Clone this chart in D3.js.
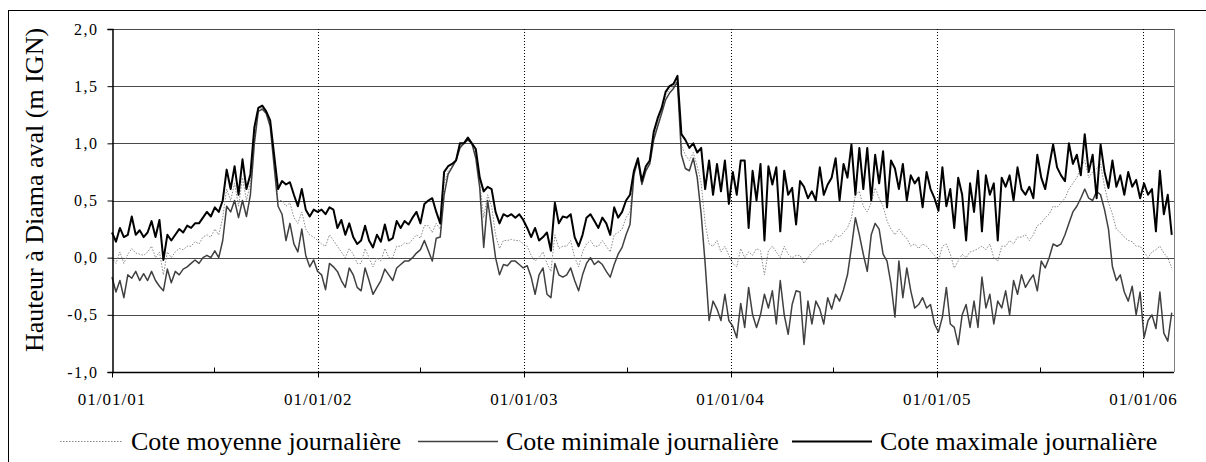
<!DOCTYPE html>
<html>
<head>
<meta charset="utf-8">
<script src="https://cdn.jsdelivr.net/npm/d3@7"></script>
<style>
  html, body { margin: 0; padding: 0; background: #fff; }
  svg { display: block; }
  text { font-family: "Liberation Serif", "Times New Roman", serif; fill: #000; }
</style>
</head>
<body>
<svg id="chart" width="1206" height="462"></svg>
<script>
// ---- data (weekly samples, metres IGN) ----
const startDate = "2001-01-01";
const stepDays = 7;
const endDate = "2006-02-24";

const maxVals = [
0.22,0.14,0.26,0.18,0.2,0.36,0.2,0.24,0.18,0.22,
0.32,0.18,0.33,-0.02,0.2,0.15,0.2,0.25,0.22,0.28,
0.26,0.3,0.3,0.35,0.4,0.36,0.44,0.4,0.5,0.77,
0.6,0.8,0.55,0.86,0.6,0.73,1.14,1.31,1.33,1.28,
1.2,0.9,0.6,0.67,0.64,0.66,0.55,0.45,0.6,0.42,
0.36,0.42,0.4,0.42,0.38,0.44,0.42,0.26,0.33,0.2,
0.3,0.18,0.12,0.15,0.28,0.15,0.09,0.2,0.14,0.29,
0.15,0.17,0.32,0.26,0.32,0.29,0.35,0.4,0.3,0.47,
0.5,0.52,0.4,0.3,0.75,0.8,0.82,0.85,1.0,1.0,
1.05,1.0,0.95,0.7,0.58,0.62,0.6,0.4,0.3,0.38,
0.36,0.38,0.35,0.38,0.33,0.26,0.18,0.26,0.15,0.18,
0.22,0.06,0.48,0.3,0.36,0.35,0.38,0.18,0.1,0.2,
0.35,0.38,0.32,0.26,0.35,0.3,0.2,0.44,0.35,0.4,
0.5,0.55,0.76,0.87,0.67,0.8,0.85,1.1,1.22,1.31,
1.45,1.5,1.52,1.59,1.08,1.03,0.96,1.0,0.92,0.96,
0.6,0.85,0.55,0.82,0.58,0.85,0.47,0.75,0.55,0.85,
0.85,0.26,0.76,0.5,0.82,0.15,0.8,0.64,0.79,0.23,
0.76,0.55,0.61,0.29,0.67,0.62,0.52,0.58,0.5,0.79,
0.55,0.64,0.7,0.87,0.5,0.82,0.7,0.99,0.55,0.96,
0.6,0.96,0.5,0.9,0.65,0.93,0.44,0.85,0.78,0.6,
0.82,0.5,0.72,0.65,0.7,0.44,0.75,0.6,0.52,0.41,
0.79,0.45,0.6,0.26,0.7,0.55,0.15,0.65,0.4,0.76,
0.23,0.72,0.55,0.65,0.15,0.7,0.62,0.72,0.5,0.79,
0.6,0.55,0.62,0.52,0.9,0.7,0.6,0.8,0.99,0.79,
0.72,0.67,1.0,0.82,0.9,0.72,1.08,0.75,0.9,0.52,
0.99,0.75,0.61,0.85,0.62,0.72,0.55,0.75,0.62,0.68,
0.52,0.65,0.55,0.6,0.23,0.76,0.38,0.55,0.2
];

const minVals = [
-0.17,-0.3,-0.2,-0.35,-0.15,-0.18,-0.12,-0.2,-0.14,-0.2,
-0.12,-0.2,-0.25,-0.29,-0.1,-0.22,-0.12,-0.15,-0.1,-0.08,
-0.05,-0.02,-0.05,0.0,0.02,0.0,0.06,0.0,0.15,0.45,
0.4,0.5,0.35,0.5,0.36,0.55,1.0,1.28,1.3,1.26,
1.15,0.8,0.45,0.38,0.15,0.3,0.12,0.05,0.25,0.02,
-0.08,-0.02,-0.12,-0.15,-0.28,-0.05,-0.08,-0.12,-0.2,-0.26,
-0.09,-0.15,-0.26,-0.29,-0.09,-0.2,-0.32,-0.26,-0.2,-0.1,
-0.15,-0.2,-0.09,-0.06,-0.03,-0.03,0.0,0.04,0.07,0.15,
0.06,-0.03,0.17,0.18,0.55,0.73,0.79,0.85,0.96,1.0,
1.03,1.0,0.87,0.61,0.09,0.5,0.26,0.0,-0.15,-0.06,
-0.07,-0.03,-0.03,-0.06,-0.09,-0.07,-0.17,-0.32,-0.15,-0.09,
-0.32,-0.35,-0.05,-0.15,-0.17,-0.15,-0.09,-0.2,-0.29,-0.15,
-0.05,0.0,-0.06,-0.03,-0.06,-0.12,-0.17,-0.06,0.03,0.09,
0.2,0.29,0.73,0.85,0.64,0.76,0.82,1.03,1.15,1.26,
1.38,1.44,1.48,1.54,0.9,0.78,0.76,0.87,0.7,0.38,
-0.05,-0.55,-0.38,-0.45,-0.55,-0.32,-0.55,-0.6,-0.7,-0.4,
-0.61,-0.26,-0.5,-0.61,-0.5,-0.32,-0.44,-0.29,-0.58,-0.2,
-0.5,-0.67,-0.41,-0.29,-0.3,-0.76,-0.38,-0.58,-0.38,-0.45,
-0.58,-0.35,-0.45,-0.32,-0.38,-0.28,-0.15,0.09,0.35,0.2,
0.03,-0.12,0.2,0.3,0.25,0.03,-0.03,-0.23,-0.52,-0.03,
-0.35,-0.09,-0.29,-0.44,-0.41,-0.35,-0.44,-0.41,-0.58,-0.65,
-0.52,-0.26,-0.58,-0.61,-0.76,-0.5,-0.41,-0.61,-0.38,-0.61,
-0.17,-0.44,-0.32,-0.58,-0.38,-0.44,-0.29,-0.5,-0.2,-0.32,
-0.15,-0.26,-0.2,-0.15,-0.29,-0.03,-0.09,0.0,0.12,0.1,
0.12,0.2,0.3,0.4,0.45,0.52,0.6,0.52,0.5,0.58,
0.55,0.42,0.25,-0.08,-0.2,-0.15,-0.3,-0.38,-0.25,-0.5,
-0.3,-0.7,-0.55,-0.5,-0.62,-0.3,-0.66,-0.73,-0.48
];

const meanVals = [
0.0,-0.05,0.05,-0.05,0.03,0.08,0.04,0.03,0.02,0.05,
0.1,0.0,0.05,-0.15,0.05,0.0,0.05,0.08,0.07,0.1,
0.1,0.14,0.12,0.18,0.2,0.18,0.25,0.2,0.35,0.6,
0.5,0.65,0.45,0.7,0.5,0.65,1.05,1.3,1.31,1.27,
1.18,0.85,0.5,0.5,0.45,0.48,0.35,0.3,0.4,0.25,
0.2,0.18,0.15,0.12,0.1,0.2,0.15,0.1,0.05,0.0,
0.08,0.03,-0.05,-0.05,0.08,0.0,-0.08,0.0,-0.03,0.08,
0.0,0.0,0.1,0.1,0.13,0.12,0.16,0.2,0.17,0.28,
0.28,0.22,0.3,0.25,0.65,0.76,0.8,0.85,0.98,1.0,
1.04,1.0,0.9,0.65,0.35,0.55,0.45,0.2,0.08,0.15,
0.15,0.16,0.15,0.15,0.12,0.1,0.02,-0.03,0.0,0.05,
-0.05,-0.12,0.2,0.08,0.1,0.1,0.15,0.0,-0.08,0.05,
0.12,0.15,0.1,0.1,0.15,0.1,0.05,0.2,0.22,0.25,
0.35,0.4,0.75,0.86,0.65,0.78,0.83,1.06,1.18,1.28,
1.42,1.47,1.5,1.56,0.98,0.9,0.85,0.92,0.8,0.65,
0.3,0.12,0.1,0.15,0.05,0.1,0.02,-0.05,-0.08,0.08,
0.0,0.05,0.02,0.08,0.06,-0.15,0.06,0.1,0.05,0.0,
0.1,0.03,0.0,0.02,0.02,-0.05,0.0,0.05,0.08,0.12,
0.12,0.15,0.14,0.2,0.18,0.22,0.26,0.35,0.55,0.58,
0.45,0.4,0.48,0.61,0.52,0.45,0.32,0.25,0.2,0.25,
0.2,0.17,0.1,0.12,0.08,0.12,0.1,0.06,0.02,-0.03,
0.1,0.12,0.03,-0.09,-0.03,0.03,0.0,0.05,0.06,0.08,
0.1,0.07,0.12,0.0,-0.03,0.1,0.1,0.15,0.12,0.18,
0.18,0.2,0.15,0.2,0.28,0.3,0.35,0.38,0.45,0.44,
0.48,0.52,0.6,0.65,0.7,0.79,0.85,0.7,0.75,0.78,
0.82,0.62,0.48,0.38,0.25,0.22,0.18,0.15,0.14,0.1,
0.1,0.05,0.0,0.05,0.07,0.1,0.04,0.0,-0.09
];

const yearTicks = ["2001-01-01","2002-01-01","2003-01-01","2004-01-01","2005-01-01","2006-01-01"];
const halfYearTicks = ["2001-07-01","2002-07-01","2003-07-01","2004-07-01","2005-07-01"];
const yTickValues = [-1, -0.5, 0, 0.5, 1, 1.5, 2];
const yTickLabels = ["-1,0","-0,5","0,0","0,5","1,0","1,5","2,0"];
const yTitle = "Hauteur à Diama aval (m IGN)";
const legendLabels = ["Cote moyenne journalière","Cote minimale journalière","Cote maximale journalière"];

// ---- layout ----
const L = 112, R = 1174, T = 29, B = 372;
const svg = d3.select("#chart");
const parse = d3.utcParse("%Y-%m-%d");
const t0 = parse(startDate);
const dateAt = i => d3.utcDay.offset(t0, i * stepDays);

const x = d3.scaleUtc().domain([t0, parse(endDate)]).range([L, R]);
const y = d3.scaleLinear().domain([-1, 2]).range([B, T]);

// outer frame
svg.append("rect").attr("x", 8.5).attr("y", 10.5).attr("width", 1210).attr("height", 470)
  .attr("fill", "none").attr("stroke", "#000").attr("stroke-width", 1);

// horizontal grid
svg.append("g").selectAll("line").data(yTickValues.filter(v => v > -1)).join("line")
  .attr("x1", L).attr("x2", R)
  .attr("y1", d => Math.round(y(d)) + 0.5).attr("y2", d => Math.round(y(d)) + 0.5)
  .attr("stroke", "#4a4a4a").attr("stroke-width", 1);

// right border
svg.append("line").attr("x1", R + 0.5).attr("x2", R + 0.5).attr("y1", T).attr("y2", B)
  .attr("stroke", "#808080").attr("stroke-width", 1);

// vertical dotted grid at years
svg.append("g").selectAll("line").data(yearTicks.slice(1).map(parse)).join("line")
  .attr("x1", d => Math.round(x(d)) + 0.5).attr("x2", d => Math.round(x(d)) + 0.5)
  .attr("y1", T).attr("y2", B)
  .attr("stroke", "#000").attr("stroke-width", 1).attr("stroke-dasharray", "1,2");

// series
const line = vals => d3.line()
  .x((d, i) => x(dateAt(i)))
  .y(d => y(d))(vals);

svg.append("path").attr("d", line(meanVals)).attr("fill", "none")
  .attr("stroke", "#8a8a8a").attr("stroke-width", 1).attr("stroke-dasharray", "1.5,1.5");
svg.append("path").attr("d", line(minVals)).attr("fill", "none")
  .attr("stroke", "#404040").attr("stroke-width", 1.5).attr("stroke-linejoin", "round");
svg.append("path").attr("d", line(maxVals)).attr("fill", "none")
  .attr("stroke", "#000").attr("stroke-width", 2).attr("stroke-linejoin", "round");

// y axis
const yAxis = d3.axisLeft(y).tickValues(yTickValues)
  .tickFormat((d, i) => yTickLabels[i]).tickSize(5).tickPadding(9);
const gy = svg.append("g").attr("transform", `translate(${L + 0.5},0)`).call(yAxis);
gy.select(".domain").attr("stroke", "#000").attr("stroke-width", 1.5);
gy.selectAll(".tick line").attr("stroke", "#000");
gy.selectAll(".tick text").attr("font-family", "Liberation Serif").attr("font-size", 16)
  .attr("letter-spacing", "1.5px").attr("fill", "#000");

// x axis (major ticks outward at years, minor inward at half years)
const gx = svg.append("g").attr("transform", `translate(0,${B + 0.5})`);
gx.append("line").attr("x1", L).attr("x2", R).attr("stroke", "#000").attr("stroke-width", 1.5);
gx.selectAll(".maj").data(yearTicks.map(parse)).join("line").attr("class", "maj")
  .attr("x1", d => Math.round(x(d)) + 0.5).attr("x2", d => Math.round(x(d)) + 0.5)
  .attr("y1", 0).attr("y2", 5).attr("stroke", "#000");
gx.selectAll(".min").data(halfYearTicks.map(parse)).join("line").attr("class", "min")
  .attr("x1", d => Math.round(x(d)) + 0.5).attr("x2", d => Math.round(x(d)) + 0.5)
  .attr("y1", 0).attr("y2", -5).attr("stroke", "#000");
const fmt = d3.utcFormat("%d/%m/%y");
gx.selectAll(".lab").data(yearTicks.map(parse)).join("text").attr("class", "lab")
  .attr("x", d => x(d)).attr("y", 32).attr("text-anchor", "middle")
  .attr("font-size", 17).attr("letter-spacing", "1px").text(d => fmt(d));

// y title
svg.append("text").attr("transform", "translate(43,190) rotate(-90)")
  .attr("text-anchor", "middle").attr("font-size", 26).text(yTitle);

// legend
const legendX = [60, 418, 792];
const legendLen = [63, 80, 80];
const legendStyles = [
  {stroke: "#8a8a8a", w: 1, dash: "1.5,1.5"},
  {stroke: "#404040", w: 1.5, dash: null},
  {stroke: "#000", w: 2, dash: null}
];
const lg = svg.append("g");
legendLabels.forEach((lab, i) => {
  const st = legendStyles[i];
  lg.append("line").attr("x1", legendX[i]).attr("x2", legendX[i] + legendLen[i])
    .attr("y1", 441.5).attr("y2", 441.5)
    .attr("stroke", st.stroke).attr("stroke-width", st.w)
    .attr("stroke-dasharray", st.dash);
  lg.append("text").attr("x", legendX[i] + legendLen[i] + 8).attr("y", 450)
    .attr("font-size", 26).text(lab);
});
</script>
</body>
</html>
